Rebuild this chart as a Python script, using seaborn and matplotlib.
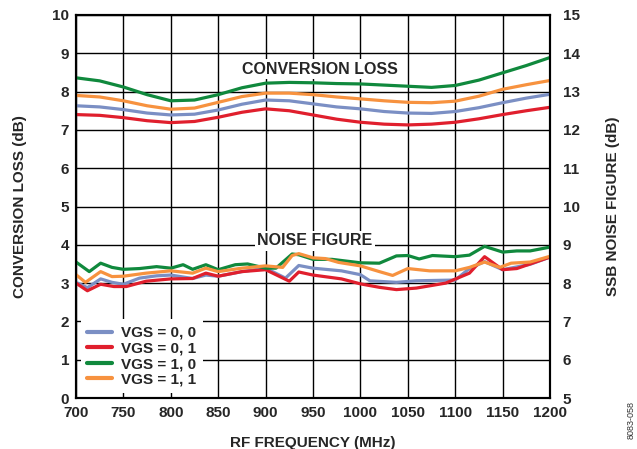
import matplotlib
matplotlib.use("Agg")
import matplotlib.pyplot as plt
import seaborn as sns
import pandas as pd

# --- data ---
# conversion loss (left axis, dB), sampled every 25 MHz
cl_freq = [700, 725, 750, 775, 800, 825, 850, 875, 900, 925, 950,
           975, 1000, 1025, 1050, 1075, 1100, 1125, 1150, 1175, 1200]
cl_00 = [7.63, 7.60, 7.53, 7.44, 7.39, 7.41, 7.52, 7.67, 7.78, 7.76, 7.68,
         7.60, 7.55, 7.48, 7.44, 7.43, 7.48, 7.58, 7.71, 7.83, 7.93]
cl_01 = [7.40, 7.38, 7.32, 7.24, 7.19, 7.22, 7.33, 7.46, 7.55, 7.50, 7.39,
         7.28, 7.20, 7.15, 7.13, 7.15, 7.20, 7.29, 7.40, 7.50, 7.59]
cl_10 = [8.36, 8.28, 8.12, 7.92, 7.76, 7.78, 7.92, 8.10, 8.22, 8.24, 8.23,
         8.21, 8.20, 8.17, 8.14, 8.11, 8.16, 8.30, 8.49, 8.68, 8.89]
cl_11 = [7.90, 7.86, 7.76, 7.63, 7.54, 7.57, 7.72, 7.87, 7.96, 7.96, 7.92,
         7.86, 7.81, 7.76, 7.72, 7.71, 7.75, 7.88, 8.06, 8.18, 8.29]

# SSB noise figure (right axis, dB)
nf_00_f = [700, 712, 726, 738, 750, 767, 785, 800, 823, 837, 850, 875, 900, 921,
           935, 950, 980, 1000, 1010, 1038, 1059, 1100, 1115, 1131, 1150, 1179, 1200]
nf_00 = [8.02, 7.88, 8.11, 8.02, 7.97, 8.13, 8.19, 8.21, 8.12, 8.21, 8.18, 8.30, 8.39, 8.13,
         8.46, 8.39, 8.32, 8.22, 8.06, 8.02, 8.06, 8.08, 8.38, 8.56, 8.35, 8.49, 8.68]
nf_01_f = [700, 712, 726, 740, 753, 774, 800, 823, 837, 850, 875, 900, 925,
           935, 950, 980, 1000, 1020, 1038, 1059, 1090, 1115, 1131, 1150, 1165, 1200]
nf_01 = [8.00, 7.80, 7.97, 7.91, 7.91, 8.05, 8.11, 8.12, 8.26, 8.18, 8.30, 8.35, 8.05,
         8.29, 8.21, 8.11, 7.98, 7.89, 7.83, 7.87, 8.00, 8.26, 8.69, 8.35, 8.38, 8.68]
nf_10_f = [700, 714, 726, 738, 750, 767, 785, 800, 813, 823, 837, 850, 868, 881, 900, 911,
           928, 935, 950, 970, 1000, 1020, 1038, 1050, 1062, 1076, 1100, 1115, 1131,
           1150, 1165, 1179, 1200]
nf_10 = [8.55, 8.30, 8.52, 8.41, 8.36, 8.38, 8.43, 8.39, 8.48, 8.36, 8.48, 8.35, 8.48, 8.50,
         8.39, 8.39, 8.76, 8.74, 8.62, 8.62, 8.53, 8.52, 8.71, 8.72, 8.63, 8.72, 8.69, 8.73,
         8.96, 8.81, 8.84, 8.84, 8.94]
nf_11_f = [700, 710, 726, 738, 750, 774, 800, 823, 837, 850, 875, 900, 918, 928, 935,
           950, 963, 977, 1000, 1020, 1034, 1050, 1073, 1100, 1115, 1131, 1147, 1159,
           1179, 1200]
nf_11 = [8.22, 8.02, 8.30, 8.17, 8.18, 8.26, 8.32, 8.26, 8.39, 8.30, 8.39, 8.45, 8.41, 8.72,
         8.77, 8.66, 8.64, 8.54, 8.45, 8.30, 8.20, 8.38, 8.32, 8.32, 8.41, 8.55, 8.41, 8.52,
         8.55, 8.70]

labels = ["VGS = 0, 0", "VGS = 0, 1", "VGS = 1, 0", "VGS = 1, 1"]
colors = ["#7b8fc4", "#e01f2d", "#10893d", "#f7923f"]

cl_df = pd.concat([pd.DataFrame({"freq": cl_freq, "val": v, "vgs": lab})
                   for v, lab in zip([cl_00, cl_01, cl_10, cl_11], labels)])
nf_df = pd.concat([pd.DataFrame({"freq": f, "val": v, "vgs": lab})
                   for f, v, lab in zip([nf_00_f, nf_01_f, nf_10_f, nf_11_f],
                                        [nf_00, nf_01, nf_10, nf_11], labels)])

# --- plot ---
sns.set_style("white")
plt.rcParams["font.family"] = ["Liberation Sans", "DejaVu Sans"]
plt.rcParams["font.weight"] = "bold"

fig = plt.figure(figsize=(6.37, 4.49), dpi=100)
ax = fig.add_axes([76 / 637, 51 / 449, 474 / 637, 383 / 449])
ax2 = ax.twinx()

pal = dict(zip(labels, colors))
sns.lineplot(data=cl_df, x="freq", y="val", hue="vgs", palette=pal, lw=2.3,
             legend=False, ax=ax, sort=False)
sns.lineplot(data=nf_df, x="freq", y="val", hue="vgs", palette=pal, lw=2.3,
             legend=False, ax=ax2, sort=False)

ax.set_xlim(700, 1200)
ax.set_ylim(0, 10)
ax2.set_ylim(5, 15)
ax.set_xticks(range(700, 1201, 50))
ax.set_yticks(range(0, 11))
ax2.set_yticks(range(5, 16))
ax.grid(True, color="black", lw=1)
ax.set_axisbelow(True)
for a in (ax, ax2):
    a.tick_params(length=0, labelsize=11)
    for s in a.spines.values():
        s.set_color("black")
        s.set_linewidth(1.5)
ax.tick_params(axis="x", pad=6)
ax.tick_params(axis="y", pad=5)
ax2.tick_params(axis="y", pad=9)
for t in ax.get_xticklabels() + ax.get_yticklabels() + ax2.get_yticklabels():
    t.set_fontweight("bold")

ax.set_xlabel("RF FREQUENCY (MHz)", fontsize=11, fontweight="bold", labelpad=11)
ax.set_ylabel("CONVERSION LOSS (dB)", fontsize=11, fontweight="bold", labelpad=18)
ax2.set_ylabel("SSB NOISE FIGURE (dB)", fontsize=11, fontweight="bold", labelpad=19)

box = dict(facecolor="white", edgecolor="none", pad=2)
ax2.text(957, 13.59, "CONVERSION LOSS", ha="center", va="center",
         fontsize=11.5, fontweight="bold", bbox=box)
ax2.text(952, 9.1, "NOISE FIGURE", ha="center", va="center",
         fontsize=11.5, fontweight="bold", bbox=box)

handles = [plt.Line2D([], [], color=c, lw=3) for c in colors]
leg = ax2.legend(handles, labels, loc="lower left", bbox_to_anchor=(0.0, 0.0),
                 frameon=True, fancybox=False, framealpha=1, edgecolor="none",
                 fontsize=11, handlelength=1.6, handletextpad=0.6,
                 labelspacing=0.1, borderpad=0.45, borderaxespad=0.3)
for t in leg.get_texts():
    t.set_fontweight("bold")

fig.text(631 / 637, 1 - 420 / 449, "8083-058", rotation=90, ha="center",
         va="center", fontsize=6.5, fontweight="normal", color="#333333")

fig.savefig("out.png", dpi=100)
